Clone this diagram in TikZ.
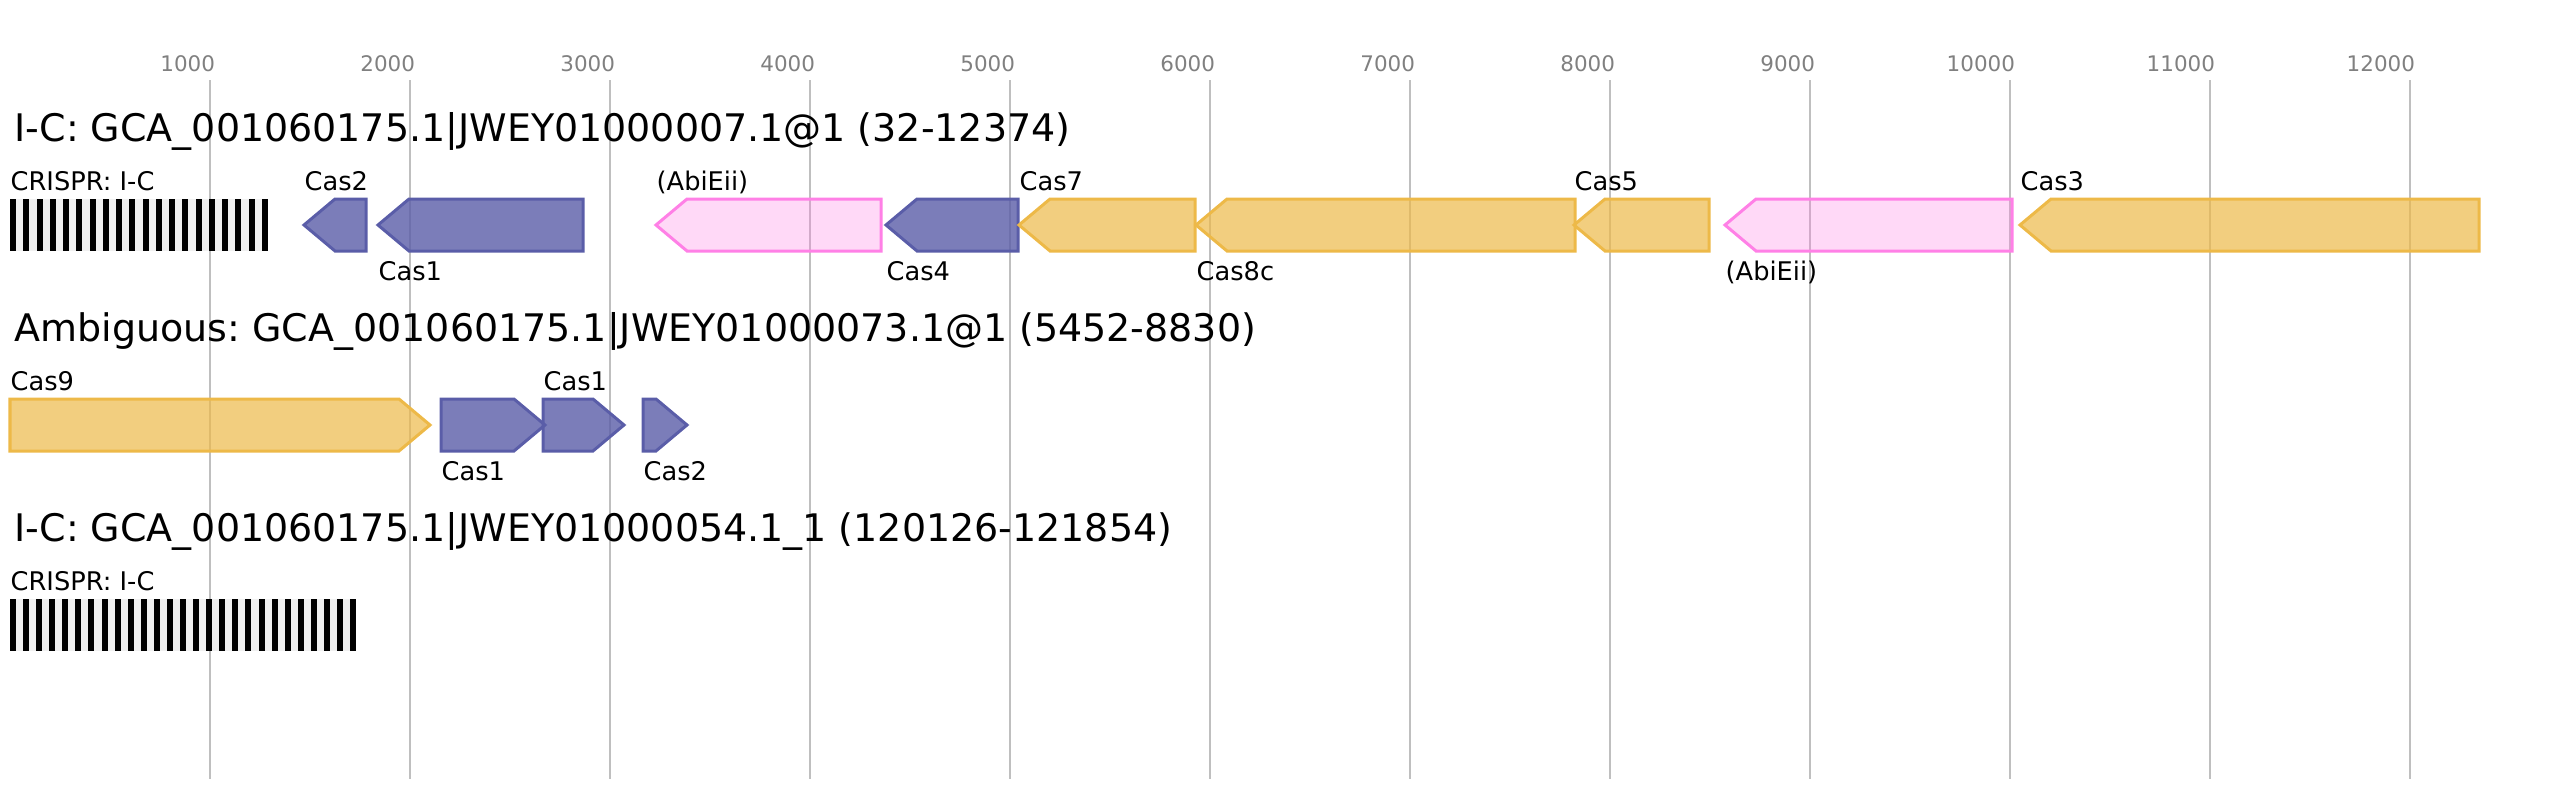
\documentclass[tikz,border=0pt]{standalone}
\usepackage{fontspec}
\setmainfont{DejaVu Sans}
\frenchspacing
\definecolor{gridgray}{RGB}{191,191,191}
\definecolor{tickgray}{RGB}{128,128,128}
\definecolor{casblue}{RGB}{90,93,168}
\definecolor{casyellow}{RGB}{237,185,72}
\definecolor{abipink}{RGB}{255,128,230}
\definecolor{arraygray}{RGB}{240,240,240}
\begin{document}
\begin{tikzpicture}[x=0.01cm, y=-0.01cm,
   gridline/.style={draw=gridgray, line width=0.02cm},
   ticklabel/.style={anchor=base east, text=tickgray, inner sep=0, font=\fontsize{6.1}{7}\selectfont},
   rowtitle/.style={anchor=base west, inner sep=0, font=\fontsize{10.8}{12}\selectfont},
   genelabel/.style={anchor=base west, inner sep=0, font=\fontsize{7.3}{8}\selectfont},
   bluegene/.style={draw=casblue, fill=casblue, fill opacity=0.8, line width=0.03cm},
   yellowgene/.style={draw=casyellow, fill=casyellow, fill opacity=0.7, line width=0.03cm},
   pinkgene/.style={draw=abipink, fill=abipink, fill opacity=0.3, line width=0.03cm}]
   \useasboundingbox (0,0) rectangle (2568,800);

   % scale and grid
   \foreach \p in {1000,2000,...,12000} {
      \draw[gridline] (9.7+0.2*\p,80) -- (9.7+0.2*\p,779);
      \node[ticklabel] (tick\p) at (15.7+0.2*\p,71) {\p};
   }

   % first locus
   \node[rowtitle] (title1) at (14,141) {I-C: GCA\_001060175.1|JWEY01000007.1@1 (32-12374)};
   \fill[arraygray] (10,199) rectangle (268,251);
   \foreach \i in {0,...,19}
      \fill[black] (10+13.26*\i,199) rectangle (16+13.26*\i,251);
   \node[genelabel] (crispr1) at (10,190) {CRISPR: I-C};
   \draw[bluegene] (366,199) -- (335,199) -- (304,225) -- (335,251) -- (366,251) -- cycle;
   \node[genelabel] (cas2a) at (304,190) {Cas2};
   \draw[bluegene] (583,199) -- (409,199) -- (378,225) -- (409,251) -- (583,251) -- cycle;
   \node[genelabel] (cas1a) at (378,280) {Cas1};
   \draw[pinkgene] (881,199) -- (687,199) -- (656,225) -- (687,251) -- (881,251) -- cycle;
   \node[genelabel] (abi1) at (656,190) {(AbiEii)};
   \draw[bluegene] (1018,199) -- (917,199) -- (886,225) -- (917,251) -- (1018,251) -- cycle;
   \node[genelabel] (cas4) at (886,280) {Cas4};
   \draw[yellowgene] (1195,199) -- (1050,199) -- (1019,225) -- (1050,251) -- (1195,251) -- cycle;
   \node[genelabel] (cas7) at (1019,190) {Cas7};
   \draw[yellowgene] (1575,199) -- (1227,199) -- (1196,225) -- (1227,251) -- (1575,251) -- cycle;
   \node[genelabel] (cas8c) at (1196,280) {Cas8c};
   \draw[yellowgene] (1709,199) -- (1605,199) -- (1574,225) -- (1605,251) -- (1709,251) -- cycle;
   \node[genelabel] (cas5) at (1574,190) {Cas5};
   \draw[pinkgene] (2012,199) -- (1756,199) -- (1725,225) -- (1756,251) -- (2012,251) -- cycle;
   \node[genelabel] (abi2) at (1725,280) {(AbiEii)};
   \draw[yellowgene] (2479,199) -- (2051,199) -- (2020,225) -- (2051,251) -- (2479,251) -- cycle;
   \node[genelabel] (cas3) at (2020,190) {Cas3};

   % second locus
   \node[rowtitle] (title2) at (14,341) {Ambiguous: GCA\_001060175.1|JWEY01000073.1@1 (5452-8830)};
   \draw[yellowgene] (10,399) -- (399,399) -- (430,425) -- (399,451) -- (10,451) -- cycle;
   \node[genelabel] (cas9) at (10,390) {Cas9};
   \draw[bluegene] (441,399) -- (514,399) -- (545,425) -- (514,451) -- (441,451) -- cycle;
   \node[genelabel] (cas1b) at (441,480) {Cas1};
   \draw[bluegene] (543,399) -- (593,399) -- (624,425) -- (593,451) -- (543,451) -- cycle;
   \node[genelabel] (cas1c) at (543,390) {Cas1};
   \draw[bluegene] (643,399) -- (656,399) -- (687,425) -- (656,451) -- (643,451) -- cycle;
   \node[genelabel] (cas2b) at (643,480) {Cas2};

   % third locus
   \node[rowtitle] (title3) at (14,541) {I-C: GCA\_001060175.1|JWEY01000054.1\_1 (120126-121854)};
   \fill[arraygray] (10,599) rectangle (356,651);
   \foreach \i in {0,...,26}
      \fill[black] (10+13.08*\i,599) rectangle (16+13.08*\i,651);
   \node[genelabel] (crispr3) at (10,590) {CRISPR: I-C};
\end{tikzpicture}
\end{document}
